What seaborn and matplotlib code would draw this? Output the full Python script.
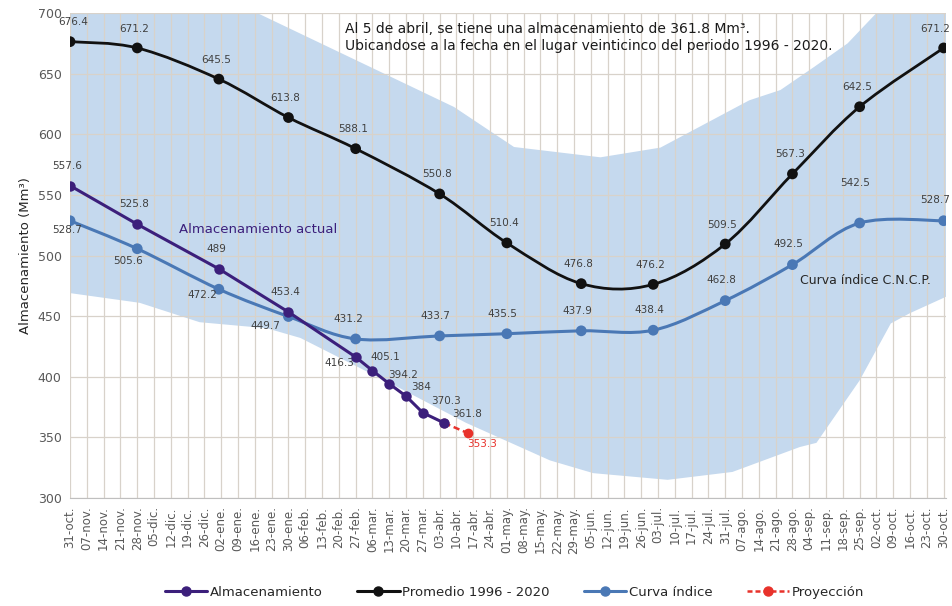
import numpy as np
import pandas as pd
import seaborn as sns
import matplotlib.pyplot as plt
import matplotlib.dates as mdates
from matplotlib.path import Path
from matplotlib.patches import PathPatch
from matplotlib.lines import Line2D

# puntos del promedio y de la curva indice
fechas_mes = ['2020-10-31', '2020-11-28', '2021-01-01', '2021-01-30', '2021-02-27',
              '2021-04-03', '2021-05-01', '2021-06-01', '2021-07-01', '2021-07-31',
              '2021-08-28', '2021-09-25', '2021-10-30']
promedio = [676.4, 671.2, 645.5, 613.8, 588.1, 550.8, 510.4, 476.8, 476.2, 509.5, 567.3, 622.7, 671.2]
promedio_etq = ['676.4', '671.2', '645.5', '613.8', '588.1', '550.8', '510.4', '476.8', '476.2',
                '509.5', '567.3', '642.5', '671.2']
indice = [528.7, 505.6, 472.2, 449.7, 431.2, 433.7, 435.5, 437.9, 438.4, 462.8, 492.5, 526.8, 528.7]
indice_etq = ['528.7', '505.6', '472.2', '449.7', '431.2', '433.7', '435.5', '437.9', '438.4',
              '462.8', '492.5', '542.5', '528.7']

# almacenamiento actual y proyeccion
fechas_alm = ['2020-10-31', '2020-11-28', '2021-01-01', '2021-01-30', '2021-02-27', '2021-03-06',
              '2021-03-13', '2021-03-20', '2021-03-27', '2021-04-05']
almacen = [557.6, 525.8, 489, 453.4, 416.3, 405.1, 394.2, 384, 370.3, 361.8]
fechas_proy = ['2021-04-05', '2021-04-15']
proyeccion = [361.8, 353.3]

# envolvente (maximos y minimos historicos)
fechas_max = ['2020-10-31', '2020-12-31', '2021-01-17', '2021-04-09', '2021-05-04', '2021-06-09',
              '2021-07-04', '2021-08-10', '2021-08-23', '2021-09-06', '2021-09-20', '2021-10-02',
              '2021-10-31']
maximos = [760, 716, 700, 622.5, 589.5, 581, 589, 628, 636.5, 655.5, 675, 700, 750]
fechas_min = ['2020-10-31', '2020-11-29', '2020-12-24', '2021-01-21', '2021-02-04', '2021-03-17',
              '2021-04-14', '2021-05-19', '2021-06-06', '2021-07-07', '2021-08-03', '2021-08-31',
              '2021-09-07', '2021-09-25', '2021-10-08', '2021-10-16', '2021-10-31']
minimos = [469, 461, 445, 440, 432, 391, 362, 331, 320.5, 315, 321.5, 342, 345.5, 397, 444, 452.5, 466]

etiquetas_x = ['31-oct.', '07-nov.', '14-nov.', '21-nov.', '28-nov.', '05-dic.', '12-dic.', '19-dic.',
               '26-dic.', '02-ene.', '09-ene.', '16-ene.', '23-ene.', '30-ene.', '06-feb.', '13-feb.',
               '20-feb.', '27-feb.', '06-mar.', '13-mar.', '20-mar.', '27-mar.', '03-abr.', '10-abr.',
               '17-abr.', '24-abr.', '01-may.', '08-may.', '15-may.', '22-may.', '29-may.', '05-jun.',
               '12-jun.', '19-jun.', '26-jun.', '03-jul.', '10-jul.', '17-jul.', '24-jul.', '31-jul.',
               '07-ago.', '14-ago.', '21-ago.', '28-ago.', '04-sep.', '11-sep.', '18-sep.', '25-sep.',
               '02-oct.', '09-oct.', '16-oct.', '23-oct.', '30-oct.']

c_alm = '#3c1f7b'
c_prom = '#111111'
c_ind = '#4a78b5'
c_proy = '#e8322b'
c_banda = '#c5d9ee'
c_txt = '#404040'

sns.set_style('white')
plt.rcParams['font.family'] = ['DejaVu Sans']

fig = plt.figure(figsize=(9.53, 6.06), dpi=100)
ax = fig.add_axes([0.0735, 0.1782, 0.9192, 0.8003])


def num(fechas):
    return mdates.date2num(pd.to_datetime(fechas))


def curva_suave(xs, ys):
    # curva suavizada tipo Excel (Bezier por Catmull-Rom)
    pts = np.column_stack([xs, ys])
    verts = [pts[0]]
    codes = [Path.MOVETO]
    n = len(pts)
    for i in range(n - 1):
        p0 = pts[max(i - 1, 0)]
        p1 = pts[i]
        p2 = pts[i + 1]
        p3 = pts[min(i + 2, n - 1)]
        verts += [p1 + (p2 - p0) / 6, p2 - (p3 - p1) / 6, p2]
        codes += [Path.CURVE4] * 3
    return Path(verts, codes)


# banda historica
xb = np.concatenate([num(fechas_max), num(fechas_min)[::-1]])
yb = np.concatenate([maximos, minimos[::-1]])
ax.fill(xb, yb, color=c_banda, lw=0, zorder=0.2)

df_mes = pd.DataFrame({'fecha': pd.to_datetime(fechas_mes), 'promedio': promedio, 'indice': indice})
df_alm = pd.DataFrame({'fecha': pd.to_datetime(fechas_alm), 'valor': almacen})
df_proy = pd.DataFrame({'fecha': pd.to_datetime(fechas_proy), 'valor': proyeccion})

xm = num(fechas_mes)
ax.add_patch(PathPatch(curva_suave(xm, promedio), fill=False, color=c_prom, lw=2, zorder=2))
ax.add_patch(PathPatch(curva_suave(xm, indice), fill=False, color=c_ind, lw=2.2, zorder=2))
sns.scatterplot(data=df_mes, x='fecha', y='promedio', color=c_prom, s=60, edgecolor='none', ax=ax, zorder=3)
sns.scatterplot(data=df_mes, x='fecha', y='indice', color=c_ind, s=60, edgecolor='none', ax=ax, zorder=3)

sns.lineplot(data=df_proy, x='fecha', y='valor', color=c_proy, lw=1.8, ls=(0, (2.5, 1.5)),
             marker='o', markersize=7, markeredgewidth=0, ax=ax, zorder=3)
sns.lineplot(data=df_alm, x='fecha', y='valor', color=c_alm, lw=2.2, marker='o', markersize=7.5,
             markeredgewidth=0, ax=ax, zorder=4)

# etiquetas de datos
fs = 7.5
off_prom = [(2, 14)] + [(-2, 14)] * 11 + [(-6, 14)]
for x, y, t, o in zip(xm, promedio, promedio_etq, off_prom):
    ax.annotate(t, (x, y), xytext=o, textcoords='offset points', ha='center', va='center',
                fontsize=fs, color=c_txt)
off_ind = [(-2, -7), (-6.5, -9), (-11.5, -4), (-16.5, -6.5), (-5, 14.5)] + [(-3, 14.5)] * 6 + [(-3, 29), (-6, 15)]
for x, y, t, o in zip(xm, indice, indice_etq, off_ind):
    ax.annotate(t, (x, y), xytext=o, textcoords='offset points', ha='center', va='center',
                fontsize=fs, color=c_txt)
off_alm = [(-2, 14.5)] * 4 + [(-12, -4.5), (9.5, 9.5), (10, 6.5), (11, 6.5), (16.5, 8.5), (16, 6.5)]
xa = num(fechas_alm)
for x, y, o in zip(xa, almacen, off_alm):
    ax.annotate(f'{y:g}', (x, y), xytext=o, textcoords='offset points', ha='center', va='center',
                fontsize=fs, color=c_txt)
xp = num(fechas_proy)
ax.annotate(f'{proyeccion[-1]:g}', (xp[-1], proyeccion[-1]), xytext=(10, -8), textcoords='offset points',
            ha='center', va='center', fontsize=fs, color=c_proy)

# textos
ax.text(0.314, 0.982, 'Al 5 de abril, se tiene una almacenamiento de 361.8 Mm³.\n'
        'Ubicandose a la fecha en el lugar veinticinco del periodo 1996 - 2020.',
        transform=ax.transAxes, ha='left', va='top', fontsize=10, color='#1a1a1a', linespacing=1.3)
ax.text(0.2146, 0.5546, 'Almacenamiento actual', transform=ax.transAxes, ha='center', va='center',
        fontsize=9.5, color=c_alm)
ax.text(0.9075, 0.4495, 'Curva índice C.N.C.P.', transform=ax.transAxes, ha='center', va='center',
        fontsize=9, color='#262626')

# ejes
semanas = pd.date_range('2020-10-31', periods=len(etiquetas_x), freq='7D')
ax.set_xticks(mdates.date2num(semanas))
ax.set_xticklabels(etiquetas_x, rotation=90, fontsize=8.5, color='#595959')
ax.set_xlim(num(['2020-10-31'])[0], num(['2021-10-31'])[0])
ax.set_ylim(300, 700)
ax.set_yticks(np.arange(300, 701, 50))
ax.tick_params(axis='y', labelsize=9, labelcolor='#595959', length=0, pad=6)
ax.tick_params(axis='x', length=0, pad=6)
ax.set_xlabel('')
ax.set_ylabel('Almacenamiento (Mm³)', fontsize=9.5, color='#262626', labelpad=4)
ax.set_axisbelow(True)
ax.grid(True, color='#d8d2ca', lw=0.9)
for s in ['top', 'right', 'left']:
    ax.spines[s].set_visible(False)
ax.spines['bottom'].set_color('#bfbfbf')

handles = [
    Line2D([], [], color=c_alm, lw=2.2, marker='o', markersize=6.5),
    Line2D([], [], color=c_prom, lw=2.2, marker='o', markersize=6.5),
    Line2D([], [], color=c_ind, lw=2.2, marker='o', markersize=6.5),
    Line2D([], [], color=c_proy, lw=1.8, ls=(0, (2, 1.2)), marker='o', markersize=6.5),
]
fig.legend(handles, ['Almacenamiento', 'Promedio 1996 - 2020', 'Curva índice', 'Proyección'],
           loc='lower center', bbox_to_anchor=(0.54, -0.008), ncol=4, frameon=False, fontsize=9.5,
           handlelength=3.2, handletextpad=0.2, columnspacing=2.6)

fig.savefig('out.png', dpi=100)
